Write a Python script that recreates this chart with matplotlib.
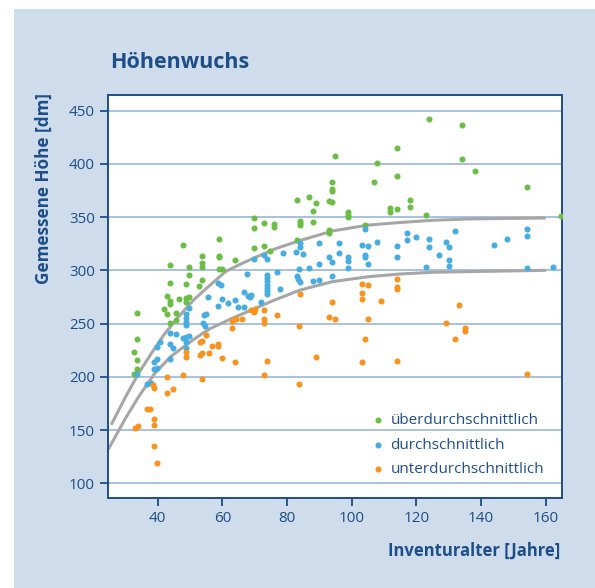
import matplotlib
matplotlib.use('Agg')
import matplotlib.pyplot as plt
from matplotlib.patches import Rectangle

plt.rcParams['font.family'] = ['Open Sans', 'DejaVu Sans']

# --- Daten ---
green_x = [33.7, 33.7, 33.7, 33.7, 32.7, 32.7, 47.8, 53.8, 53.8, 53.8, 43.8, 49.7, 49.7, 43.8,
           48.7, 53.8, 52.8, 42.7, 43.7, 43.7, 46.7, 48.7, 49.7, 48.7, 41.8, 42.8, 45.7, 45.7,
           43.7, 58.8, 58.8, 58.8, 58.8, 59.8, 63.9, 69.8, 69.8, 69.8, 72.9, 72.9, 75.9, 75.9,
           74.7, 83.0, 83.9, 83.9, 83.9, 82.9, 86.8, 88.8, 87.9, 92.9, 93.9, 87.9, 92.9, 92.9,
           93.9, 93.9, 93.9, 94.8, 98.8, 98.8, 98.8, 104.0, 107.0, 107.9, 111.8, 111.8, 114.0,
           114.0, 114.0, 117.9, 117.9, 123.0, 124.0, 134.1, 134.1, 138.0, 154.1, 164.7]
green_y = [260, 236, 216, 207, 223, 203, 324, 313.4, 306.5, 303.4, 304.7, 303.1, 295.6, 288.4,
           287.4, 291.3, 285.3, 276.2, 270.9, 268.4, 273.1, 274.3, 275.3, 270.0, 264.0, 258.7,
           260.3, 253.7, 250.2, 329.5, 313.5, 312.2, 301.3, 301.3, 309.7, 348.9, 340.1, 320.7,
           344.8, 322.9, 343.5, 341.0, 318.5, 366.1, 346.4, 344.2, 342.6, 328.5, 369.0, 363.0,
           356.1, 365.2, 363.9, 345.7, 337.9, 335.4, 383.0, 376.4, 374.2, 407.1, 354.5, 352.0,
           350.4, 342.9, 383.0, 401.2, 358.3, 354.5, 358.0, 388.3, 415.2, 365.8, 359.8, 351.7,
           442.2, 436.5, 404.3, 393.0, 378.0, 350.8]

blue_x = [33.7, 36.8, 37.8, 38.9, 39.9, 38.9, 39.9, 39.6, 40.7, 43.8, 43.8, 44.8, 43.8, 45.6,
          48.8, 48.8, 48.8, 48.8, 49.8, 47.9, 48.8, 49.5, 48.8, 48.8, 54.2, 55.0, 54.0, 54.6,
          55.5, 58.7, 59.8, 61.7, 63.9, 64.8, 66.8, 66.8, 67.8, 68.5, 68.8, 71.8, 58.7, 59.5,
          67.7, 69.9, 72.9, 73.8, 73.7, 73.7, 73.7, 73.7, 73.7, 73.7, 73.7, 76.9, 77.9, 78.8,
          82.7, 84.0, 84.0, 84.9, 83.8, 86.8, 82.9, 83.4, 84.0, 87.9, 90.0, 93.9, 90.0, 96.0,
          96.0, 92.9, 93.9, 90.0, 98.8, 98.8, 98.8, 103.0, 104.9, 104.0, 104.0, 104.0, 104.9,
          107.9, 114.0, 114.0, 117.0, 117.0, 120.0, 124.0, 124.0, 123.0, 127.0, 129.1, 130.1,
          130.1, 130.1, 132.0, 144.1, 148.1, 154.1, 154.1, 154.1, 162.1]
blue_y = [202.6, 192.9, 193.9, 207.0, 207.9, 214.2, 216.4, 228.3, 233.0, 240.8, 230.5, 227.0,
          216.6, 240.0, 259.0, 254.9, 251.8, 248.7, 264.3, 236.6, 237.3, 237.9, 233.0, 227.4,
          258.0, 258.8, 250.2, 247.5, 275.3, 266.5, 273.1, 269.0, 272.2, 265.3, 265.9, 280.0,
          275.9, 274.7, 276.9, 270.3, 287.8, 286.2, 296.6, 310.3, 314.4, 310.3, 295.7, 292.5,
          289.6, 286.6, 283.6, 280.6, 277.8, 298.5, 282.1, 316.0, 317.6, 326.0, 322.2, 315.4,
          301.0, 301.9, 294.4, 291.6, 288.6, 290.3, 291.3, 294.7, 325.4, 325.4, 316.6, 312.2,
          307.5, 305.7, 312.9, 308.8, 302.5, 323.5, 322.6, 338.9, 314.7, 312.9, 305.7, 326.3,
          322.6, 312.6, 334.8, 328.5, 331.6, 329.8, 321.6, 303.5, 314.4, 326.3, 321.6, 309.7,
          304.4, 336.7, 323.5, 329.8, 338.5, 332.6, 302.2, 303.5]

orange_x = [32.8, 33.8, 36.7, 37.7, 38.9, 38.9, 38.9, 39.7, 38.6, 38.8, 42.8, 44.8, 42.7, 47.7,
            48.8, 48.8, 52.9, 53.8, 52.9, 53.8, 53.7, 54.8, 55.8, 56.8, 58.7, 58.7, 59.8, 62.9,
            62.9, 63.8, 64.3, 65.9, 63.9, 68.9, 69.7, 70.0, 72.8, 72.8, 72.8, 72.8, 73.8, 76.9,
            83.8, 83.8, 83.9, 88.9, 93.9, 92.9, 94.9, 103.0, 104.9, 103.0, 103.0, 104.0, 104.9,
            103.0, 108.9, 114.0, 114.0, 114.0, 114.0, 129.1, 132.0, 133.1, 135.0, 135.0, 154.1]
orange_y = [152.2, 153.5, 169.6, 169.6, 160.3, 154.7, 135.3, 119.4, 192.4, 189.8, 199.5, 188.6,
            184.5, 201.7, 223.6, 218.9, 232.9, 233.8, 220.8, 222.8, 197.5, 239.3, 222.8, 228.8,
            230.9, 228.9, 217.9, 252.7, 245.6, 254.0, 254.0, 254.2, 214.0, 262.8, 261.3, 263.5,
            262.8, 254.4, 250.2, 201.7, 214.8, 258.0, 248.1, 192.9, 277.5, 218.8, 270.1, 255.9,
            254.0, 287.2, 286.3, 278.4, 272.8, 235.5, 254.0, 213.9, 271.2, 292.2, 284.1, 282.8,
            214.9, 250.1, 235.5, 267.8, 245.7, 243.0, 202.6]

# Ausgleichskurven
upper_x = [25.6, 30, 34, 38, 42, 46, 51, 55, 61, 65, 70, 77, 84, 94, 105, 115, 125, 136, 160]
upper_y = [155, 181, 203, 222, 240, 255, 272, 283, 299, 305, 312, 321, 328, 337, 342.5, 345,
           347, 348.3, 349.2]
lower_x = [24.7, 30, 34, 39, 44, 51, 56, 63, 76, 84, 94, 105, 115, 125, 136, 160]
lower_y = [132, 161, 181, 203, 219, 235, 245, 255, 272, 281.5, 289.4, 294, 296.6, 298.2,
           298.8, 300]

labels = ['überdurchschnittlich', 'durchschnittlich', 'unterdurchschnittlich']
xticks = [40, 60, 80, 100, 120, 140, 160]
yticks = [100, 150, 200, 250, 300, 350, 400, 450]

DARK = '#1d4e89'
PANEL = '#cfdcec'
GRID = '#a9c1df'

fig = plt.figure(figsize=(5.95, 5.88), dpi=100)
fig.patch.set_facecolor('white')
fig.patches.append(Rectangle((14 / 595, 0), 1, 1 - 9 / 588, transform=fig.transFigure,
                             facecolor=PANEL, edgecolor='none', zorder=-10))

ax = fig.add_axes([108 / 595, 1 - 498 / 588, 454 / 595, 403 / 588])
ax.set_facecolor('white')

for yt in yticks:
    ax.axhline(yt, color=GRID, lw=1.4, zorder=1)

ax.plot(upper_x, upper_y, color='#a6a6a6', lw=2.2, zorder=2, solid_capstyle='butt')
ax.plot(lower_x, lower_y, color='#a6a6a6', lw=2.2, zorder=2, solid_capstyle='butt')

ms = 19
ax.scatter(green_x, green_y, s=ms, color='#6cbd45', lw=0, zorder=3, label=labels[0])
ax.scatter(blue_x, blue_y, s=ms, color='#47ade0', lw=0, zorder=3, label=labels[1])
ax.scatter(orange_x, orange_y, s=ms, color='#f7931e', lw=0, zorder=3, label=labels[2])

ax.set_xlim(24.6, 165)
ax.set_ylim(86.2, 464.7)
ax.set_xticks(xticks)
ax.set_yticks(yticks)
ax.tick_params(colors=DARK, labelcolor=DARK, labelsize=11, length=6, width=1.3, direction='out')
for sp in ax.spines.values():
    sp.set_color(DARK)
    sp.set_linewidth(1.4)

leg = ax.legend(loc='upper left', bbox_to_anchor=(0.565, 0.225), frameon=False,
                fontsize=11, handletextpad=0.3, labelspacing=0.62, borderaxespad=0,
                handlelength=1.0, markerscale=1.0)
for t in leg.get_texts():
    t.set_color(DARK)

fig.text(110 / 595, 1 - 63 / 588, 'Höhenwuchs', color=DARK, fontsize=15.5,
         fontweight='bold', ha='left', va='center')
fig.text(44 / 595, 1 - 93 / 588, 'Gemessene Höhe [dm]', color=DARK, fontsize=12.3,
         fontweight='bold', rotation=90, ha='center', va='top')
fig.text(560 / 595, 1 - 551 / 588, 'Inventuralter [Jahre]', color=DARK, fontsize=12,
         fontweight='bold', ha='right', va='center')

fig.savefig('out.png', dpi=100)
